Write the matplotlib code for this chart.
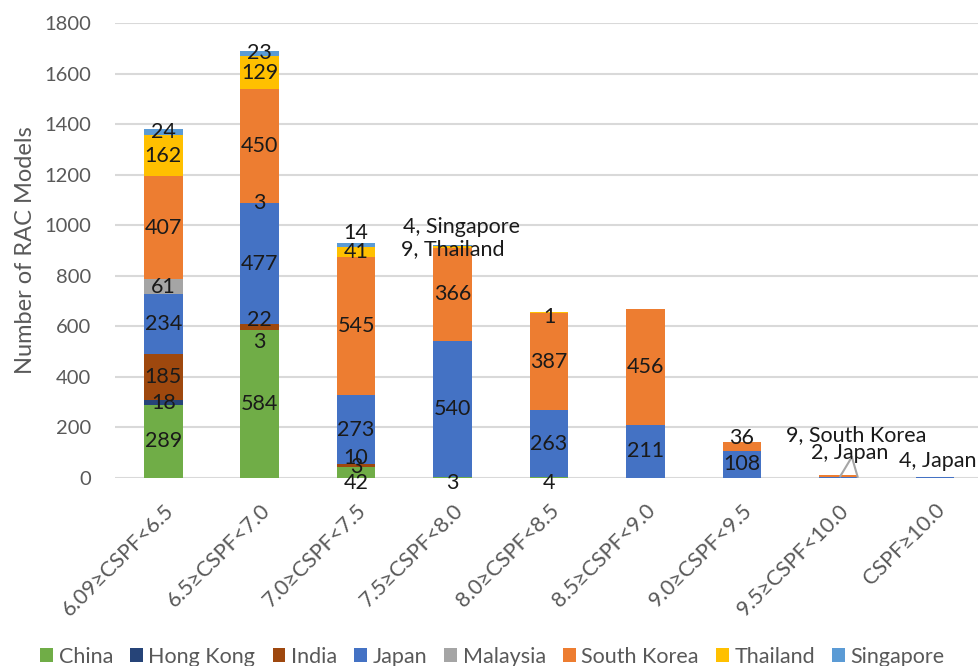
import numpy as np
import matplotlib.pyplot as plt

plt.rcParams['font.family'] = ['Lato', 'DejaVu Sans']

# CSPF bins and number of RAC models per country of origin
bins = ['6.09≥CSPF<6.5', '6.5≥CSPF<7.0', '7.0≥CSPF<7.5', '7.5≥CSPF<8.0',
        '8.0≥CSPF<8.5', '8.5≥CSPF<9.0', '9.0≥CSPF<9.5', '9.5≥CSPF<10.0', 'CSPF≥10.0']
countries = ['China', 'Hong Kong', 'India', 'Japan', 'Malaysia',
             'South Korea', 'Thailand', 'Singapore']
china       = [289, 584, 42, 3, 4, 0, 0, 0, 0]
hong_kong   = [18, 3, 3, 0, 0, 0, 0, 0, 0]
india       = [185, 22, 10, 0, 0, 0, 0, 0, 0]
japan       = [234, 477, 273, 540, 263, 211, 108, 2, 4]
malaysia    = [61, 3, 0, 0, 0, 0, 0, 0, 0]
south_korea = [407, 450, 545, 366, 387, 456, 36, 9, 0]
thailand    = [162, 129, 41, 9, 1, 0, 0, 0, 0]
singapore   = [24, 23, 14, 4, 0, 0, 0, 0, 0]
series = [china, hong_kong, india, japan, malaysia, south_korea, thailand, singapore]
colors = ['#70AD47', '#264478', '#9E480E', '#4472C4', '#A5A5A5',
          '#ED7D31', '#FFC000', '#5B9BD5']

# label shifts (x in categories, y in models) where labels would collide
nudge = {
    (1, 'Hong Kong'): (0, -48),
    (1, 'India'): (0, 27),
    (2, 'China'): (0, -41),
    (2, 'India'): (0, 29),
    (2, 'Singapore'): (0, 48),
    (3, 'China'): (0, -20),
    (3, 'Thailand'): (0, -7),
    (3, 'Singapore'): (0.09, 73),
    (4, 'China'): (0, -20),
    (4, 'Thailand'): (0, -17),
    (6, 'South Korea'): (0, 32),
    (7, 'Japan'): (0.12, 98),
    (7, 'South Korea'): (0.19, 164),
    (8, 'Japan'): (0.03, 65),
}
with_name = {(3, 'Thailand'), (3, 'Singapore'), (7, 'Japan'),
             (7, 'South Korea'), (8, 'Japan')}

fig = plt.figure(figsize=(9.79, 6.66), dpi=100)
ax = fig.add_axes([0.1175, 0.2823, 0.8866, 0.6832])

x = np.arange(len(bins))
bottom = np.zeros(len(bins))
for name, vals, col in zip(countries, series, colors):
    vals = np.array(vals, dtype=float)
    ax.bar(x, vals, 0.4, bottom=bottom, color=col, label=name, zorder=2)
    for i, v in enumerate(vals):
        if v <= 0:
            continue
        dx, dy = nudge.get((i, name), (0, 0))
        txt = f'{int(v)}, {name}' if (i, name) in with_name else f'{int(v)}'
        ax.text(x[i] + dx, bottom[i] + v / 2 + dy, txt, ha='center', va='center',
                fontsize=15.5, color='#1a1a1a', zorder=4)
    bottom += vals

# leader lines for the tiny 9.5-10.0 segments
apex = (x[7] + 0.14, 83)
ax.plot([apex[0], x[7] + 0.02], [apex[1], japan[7] / 2 + 6], color='#A6A6A6', lw=1.5, zorder=3)
ax.plot([apex[0], x[7] + 0.2], [apex[1], japan[7] + south_korea[7] / 2 - 2], color='#A6A6A6', lw=1.5, zorder=3)

ax.set_xlim(-0.5, len(bins) - 0.5)
ax.set_ylim(0, 1800)
ax.set_yticks(np.arange(0, 1801, 200))
ax.yaxis.grid(True, color='#D9D9D9', lw=1.5, zorder=0)
ax.set_axisbelow(True)
for s in ax.spines.values():
    s.set_visible(False)
ax.tick_params(axis='both', length=0, colors='#595959', labelsize=14.5)
ax.tick_params(axis='y', pad=17)
ax.tick_params(axis='x', pad=16, labelsize=15.5)
ax.set_xticks(x)
ax.set_xticklabels(bins, rotation=45, ha='right', rotation_mode='anchor')
ax.set_ylabel('Number of RAC Models', fontsize=17, color='#595959', labelpad=6)

fig.legend(loc='lower center', bbox_to_anchor=(0.503, -0.03), ncol=8, frameon=False,
           fontsize=15.5, handlelength=0.6, handleheight=0.6, handletextpad=0.25,
           columnspacing=0.8, labelcolor='#595959')

fig.savefig('out.png', dpi=100)
